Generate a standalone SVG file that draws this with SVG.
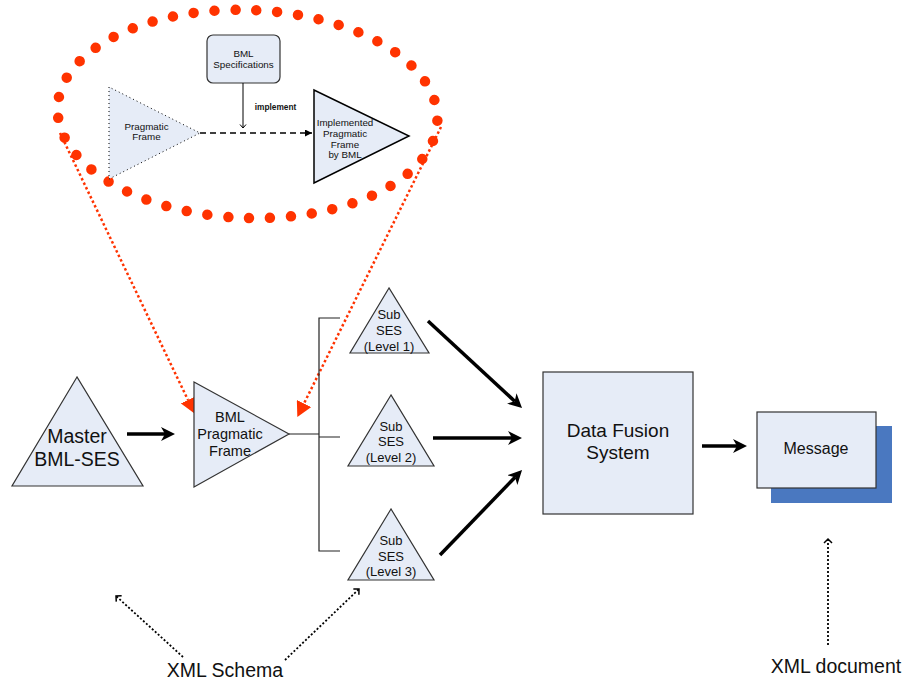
<svg xmlns="http://www.w3.org/2000/svg" width="904" height="685" viewBox="0 0 904 685">
<style>
text{font-family:"Liberation Sans",Arial,sans-serif;fill:#111;text-anchor:middle}
.shape{fill:#e6ecf7;stroke:#333;stroke-width:1.2}
.thick{stroke:#000;stroke-width:3.5;fill:none;marker-end:url(#bigArrow)}
.red{stroke:#ff3300;stroke-width:2.5;stroke-dasharray:2.5 2.5;fill:none;marker-end:url(#redArrow)}
.dot{stroke:#000;stroke-width:1.8;stroke-dasharray:2 2;fill:none;marker-end:url(#openArrow)}
.brk{stroke:#222;stroke-width:1.2;fill:none}
</style>
<defs>
<marker id="bigArrow" markerUnits="userSpaceOnUse" viewBox="0 0 14 14" refX="4" refY="7" markerWidth="14" markerHeight="14" orient="auto">
<path d="M0,0 L14,7 L0,14 L4,7 z" fill="#000"/>
</marker>
<marker id="redArrow" markerUnits="userSpaceOnUse" viewBox="0 0 15 16" refX="0" refY="8" markerWidth="15" markerHeight="16" orient="auto">
<path d="M0,0 L15,8 L0,16 z" fill="#ff3300"/>
</marker>
<marker id="openArrow" markerUnits="userSpaceOnUse" viewBox="-1 -1 7 10" refX="4" refY="4" markerWidth="7" markerHeight="10" orient="auto">
<path d="M0,0 L4,4 L0,8" fill="none" stroke="#000" stroke-width="1.5"/>
</marker>
<marker id="smallOpen" markerUnits="userSpaceOnUse" viewBox="-1 -1 6 8" refX="3.5" refY="3" markerWidth="6" markerHeight="8" orient="auto">
<path d="M0,0 L3.5,3 L0,6" fill="none" stroke="#000" stroke-width="1"/>
</marker>
<marker id="smallFill" markerUnits="userSpaceOnUse" viewBox="0 0 7 7" refX="7" refY="3.5" markerWidth="7" markerHeight="7" orient="auto">
<path d="M0,0 L7,3.5 L0,7 z" fill="#000"/>
</marker>
</defs>

<g id="zoom-ellipse">
<ellipse cx="247.5" cy="114" rx="190" ry="104" fill="none" stroke="#ff3300" stroke-width="10.5" stroke-linecap="round" pathLength="45" stroke-dasharray="0 1" transform="rotate(2 247.5 114)"/>
</g>

<g id="bml-specifications">
<rect x="207" y="35" width="73" height="48" rx="6" class="shape"/>
<text x="243.5" y="57" font-size="9.8">BML</text>
<text x="243.5" y="68" font-size="9.8">Specifications</text>
</g>

<g id="pragmatic-frame">
<polygon points="109,87 109,179 200,133" fill="#e6ecf7" stroke="#000" stroke-width="1" stroke-dasharray="1 3"/>
<text x="146.5" y="130" font-size="9.8">Pragmatic</text>
<text x="146.5" y="140" font-size="9.8">Frame</text>
</g>

<g id="implemented-frame">
<polygon points="314,90 314,183 409,136" fill="#e6ecf7" stroke="#000" stroke-width="1.5"/>
<text x="345" y="126" font-size="9.8">Implemented</text>
<text x="345" y="137" font-size="9.8">Pragmatic</text>
<text x="345" y="148" font-size="9.8">Frame</text>
<text x="345" y="158" font-size="9.8">by BML</text>
</g>

<g id="master-bml-ses">
<polygon points="77,377 12,486 143,486" class="shape"/>
<text x="77" y="443" font-size="19.5">Master</text>
<text x="77" y="466" font-size="19.5">BML-SES</text>
</g>

<g id="sub-ses-1">
<polygon points="389,288 350,353 429,353" class="shape"/>
<text x="389" y="319" font-size="13">Sub</text>
<text x="389" y="335" font-size="13">SES</text>
<text x="389" y="351" font-size="13">(Level 1)</text>
</g>

<g id="sub-ses-2">
<polygon points="391,395 348,466 434,466" class="shape"/>
<text x="391" y="431" font-size="13">Sub</text>
<text x="391" y="446" font-size="13">SES</text>
<text x="391" y="462" font-size="13">(Level 2)</text>
</g>

<g id="sub-ses-3">
<polygon points="391,509 348,580 434,580" class="shape"/>
<text x="391" y="545" font-size="13">Sub</text>
<text x="391" y="561" font-size="13">SES</text>
<text x="391" y="576" font-size="13">(Level 3)</text>
</g>

<g id="data-fusion-system">
<rect x="543" y="372" width="150" height="142" class="shape"/>
<text x="618" y="437" font-size="19">Data Fusion</text>
<text x="618" y="459" font-size="19">System</text>
</g>

<g id="message">
<rect x="771" y="426" width="121" height="77" fill="#4a78c0"/>
<rect x="757" y="412" width="119" height="76" class="shape"/>
<text x="816" y="454" font-size="16">Message</text>
</g>

<g id="xml-schema">
<text x="225" y="677" font-size="19.5">XML Schema</text>
</g>

<g id="xml-document">
<text x="836" y="673" font-size="19.5">XML document</text>
</g>

<g id="connectors">
<line x1="243" y1="83" x2="243" y2="128" stroke="#000" stroke-width="1" marker-end="url(#smallOpen)"/>
<text x="275.5" y="110" font-size="8.3" font-weight="bold">implement</text>
<line x1="200" y1="133" x2="312" y2="133" stroke="#000" stroke-width="1.3" stroke-dasharray="6 4" marker-end="url(#smallFill)"/>
<path class="red" d="M60,133 L188,400"/>
<path class="red" d="M441,127 L304,403.5"/>
<line class="thick" x1="127" y1="434" x2="165" y2="434"/>
<path class="brk" d="M289,434 L319,434 M340,318 L319,318 L319,551 L340,551 M319,437 L340,437"/>
<line class="thick" x1="428" y1="321" x2="514.7" y2="401.2"/>
<line class="thick" x1="433" y1="438" x2="512" y2="438"/>
<line class="thick" x1="440" y1="555" x2="515.1" y2="477.2"/>
<line class="thick" x1="702" y1="446" x2="737" y2="446"/>
<path class="dot" d="M183,657 L116,596"/>
<path class="dot" d="M285,660 L359,589"/>
<path class="dot" d="M828,645 L828,539"/>
</g>

<g id="pragmatic-frame-overlay">
<polygon points="194,382 194,487 289,434" class="shape"/>
<text x="230" y="422" font-size="14.5">BML</text>
<text x="230" y="439" font-size="14.5">Pragmatic</text>
<text x="230" y="456" font-size="14.5">Frame</text>
</g>
</svg>
